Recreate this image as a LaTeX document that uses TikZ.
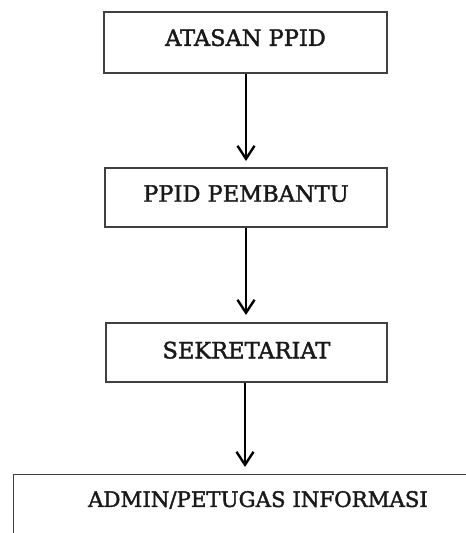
\documentclass[tikz,border=0pt]{standalone}
\usepackage{fontspec}
\setmainfont{DejaVu Serif}
\newfontfamily\boxfont{DejaVu Serif}[FakeBold=1.8]
\usetikzlibrary{arrows.meta}
\begin{document}
\begin{tikzpicture}[x=1pt,y=-1pt,
  box/.style={draw=black!75,line width=1.4pt,rectangle,inner sep=0pt,
    font=\boxfont\fontsize{22.5}{27}\selectfont,text=black!90},
  arr/.style={draw=black,line width=2.4pt,
    -{Straight Barb[length=13pt,width=17pt,line width=2.4pt]}}]
\useasboundingbox (0,0) rectangle (466,533);
\node[box,minimum width=283pt,minimum height=61pt,text depth=10pt] (b1) at (245.5,42.5) {ATASAN PPID};
\node[box,minimum width=282pt,minimum height=59pt,text depth=8pt] (b2) at (246,197.5) {PPID PEMBANTU};
\node[box,minimum width=281pt,minimum height=59pt,text depth=5pt] (b3) at (246.5,352.5) {SEKRETARIAT};
\begin{scope}
\clip (0,0) rectangle (466,533);
\node[box,minimum width=480pt,minimum height=90pt,anchor=north west,text depth=0pt,text height=0pt] (b4) at (13,474) {};
\end{scope}
\node[font=\boxfont\fontsize{21.3}{26}\selectfont,text=black!90,inner sep=0pt] (t4) at (258,500) {ADMIN/PETUGAS INFORMASI};
\coordinate (e1) at (246,161);
\coordinate (e2) at (246,315);
\coordinate (e3) at (245,467);
\draw[arr] (b1.south -| e1) -- (e1);
\draw[arr] (b2.south -| e2) -- (e2);
\draw[arr] (b3.south -| e3) -- (e3);
\end{tikzpicture}
\end{document}
